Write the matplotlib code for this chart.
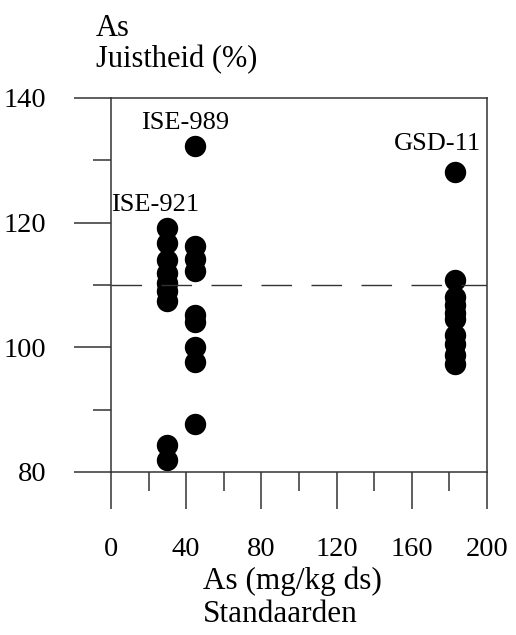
import matplotlib.pyplot as plt
from matplotlib.ticker import MultipleLocator

plt.rcParams['font.family'] = ['Liberation Serif', 'DejaVu Serif']

# standaarden: ISE-921, ISE-989, GSD-11
ise921_x = 30
ise921_y = [119.1, 116.8, 114.0, 112.0, 110.3, 109.0, 107.4, 84.3, 82.0]
ise989_x = 44.5
ise989_y = [132.3, 116.3, 114.2, 112.3, 105.2, 104.1, 100.0, 97.7, 87.7]
gsd11_x = 183
gsd11_y = [128.1, 110.8, 108.0, 106.8, 105.5, 104.5, 102.0, 100.5, 98.8, 97.3]
ref_line = 110

labels = ['ISE-921', 'ISE-989', 'GSD-11']
label_pos = [(23.4, 122.8), (39.5, 136.0), (173.7, 132.6)]

fig = plt.figure(figsize=(5.16, 6.35), dpi=100)
ax = fig.add_axes([0.215, 0.2567, 0.729, 0.589])

ax.plot([ise921_x] * len(ise921_y), ise921_y, 'o', color='black', ms=14.4, mec='black')
ax.plot([ise989_x] * len(ise989_y), ise989_y, 'o', color='black', ms=14.4, mec='black')
ax.plot([gsd11_x] * len(gsd11_y), gsd11_y, 'o', color='black', ms=14.4, mec='black')

ax.axhline(ref_line, color='#333333', lw=1.0, dashes=(22, 14))

for lab, (lx, ly) in zip(labels, label_pos):
    ax.text(lx, ly, lab, fontsize=19, ha='center', va='center')

ax.set_xlim(0, 200)
ax.set_ylim(80, 140)
ax.xaxis.set_major_locator(MultipleLocator(40))
ax.xaxis.set_minor_locator(MultipleLocator(20))
ax.yaxis.set_major_locator(MultipleLocator(20))
ax.yaxis.set_minor_locator(MultipleLocator(10))

for s in ax.spines.values():
    s.set_color('#333333')
    s.set_linewidth(1.1)

ax.tick_params(axis='both', which='both', direction='out', color='#333333', width=1.1, labelsize=20.5)
ax.tick_params(axis='x', which='major', length=26.6, pad=20)
ax.tick_params(axis='x', which='minor', length=13.5)
ax.tick_params(axis='y', which='major', length=26.6, pad=20)
ax.tick_params(axis='y', which='minor', length=13)

fig.text(96 / 516, 1 - 28 / 635, 'As', fontsize=22, ha='left', va='center')
fig.text(96 / 516, 1 - 60 / 635, 'Juistheid (%)', fontsize=22, ha='left', va='center')
fig.text(203 / 516, 1 - 581 / 635, 'As (mg/kg ds)', fontsize=22.5, ha='left', va='center')
fig.text(203 / 516, 1 - 614 / 635, 'Standaarden', fontsize=22.5, ha='left', va='center')

fig.savefig('out.png', dpi=100)
